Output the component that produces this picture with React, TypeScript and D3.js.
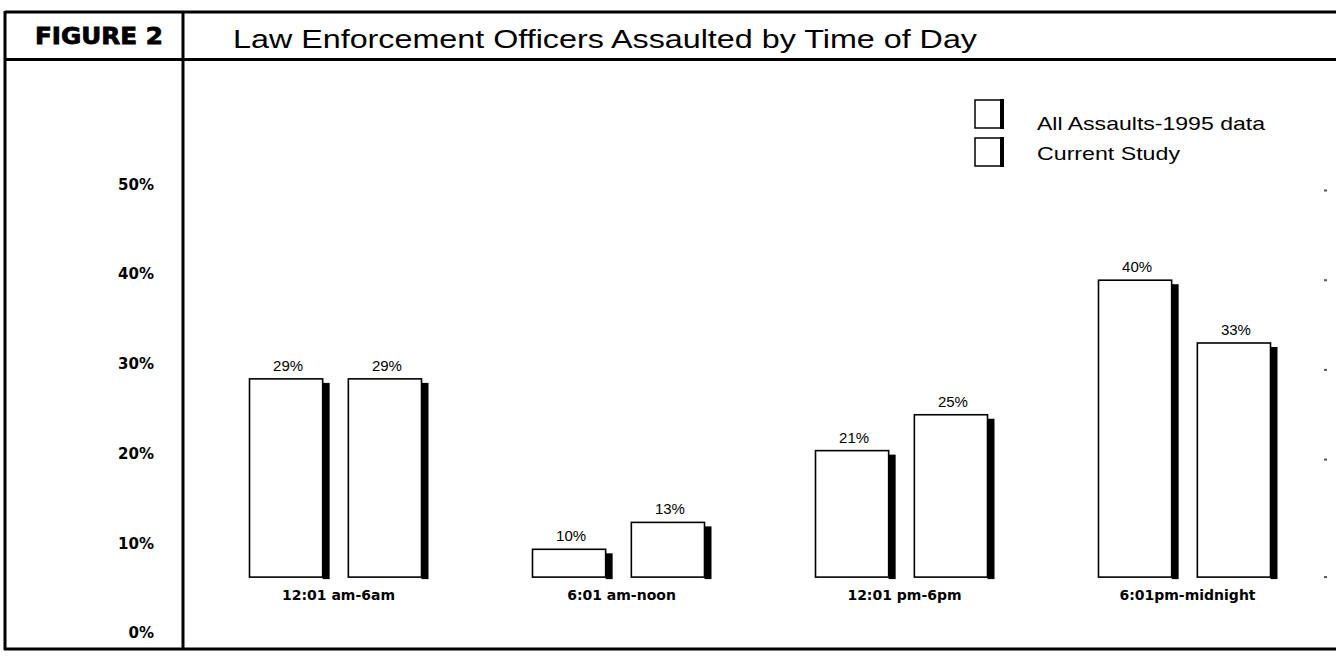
import React from "react";
import * as d3 from "d3";

const categories = ["12:01 am-6am", "6:01 am-noon", "12:01 pm-6pm", "6:01pm-midnight"];
const seriesNames = ["All Assaults-1995 data", "Current Study"];
const allAssaults1995 = [29, 10, 21, 40];
const currentStudy = [29, 13, 25, 33];
const yTicks = [0, 10, 20, 30, 40, 50];
const baseValue = 6.9;
const titleText = "Law Enforcement Officers Assaulted by Time of Day";
const figureLabel = "FIGURE 2";

export default function App() {
  const W = 1336;
  const H = 659;
  const y = d3.scaleLinear().domain([0, 50]).range([639, 190.5]);
  const x0 = d3.scaleBand<string>().domain(categories).range([197, 1329]).padding(0);
  const x1 = d3.scaleBand<string>().domain(seriesNames).range([0, 172]).paddingInner(0.26).paddingOuter(0);
  const bw = x1.bandwidth();
  const baseY = y(baseValue);
  const series = [allAssaults1995, currentStudy];
  const sans = "'Liberation Sans', Arial, Helvetica, sans-serif";
  const bold = "'DejaVu Sans', 'Liberation Sans', sans-serif";
  const legendBoxY = [100, 138];
  const legendTextY = [123, 153];
  const legendTextW = [228, 143];

  return (
    <svg width={W} height={H} style={{ position: "absolute", left: 0, top: 0, background: "#fff" }}>
      <rect x={0} y={0} width={W} height={H} fill="#fff" />
      {/* frame */}
      <g stroke="#000" strokeWidth={3} fill="none">
        <line x1={5} y1={12} x2={W} y2={12} />
        <line x1={5} y1={59.5} x2={W} y2={59.5} />
        <line x1={5} y1={11} x2={5} y2={650} />
        <line x1={183} y1={11} x2={183} y2={650} />
        <line x1={4} y1={649} x2={W} y2={649} />
      </g>
      <text x={35} y={44} fontFamily={bold} fontWeight={900} fontSize={23} stroke="#000" strokeWidth={0.8} textLength={128} lengthAdjust="spacingAndGlyphs">{figureLabel}</text>
      <text x={233} y={48} fontFamily={sans} fontSize={25} textLength={744} lengthAdjust="spacingAndGlyphs">{titleText}</text>

      {/* y tick labels */}
      {yTicks.map((t) => (
        <text key={t} x={154} y={y(t) - 6} dy="0.35em" textAnchor="end" fontFamily={bold} fontWeight={700} fontSize={15}>{`${t}%`}</text>
      ))}

      {/* faint grid dots at right */}
      {[...yTicks.filter((t) => t >= 20), baseValue].map((t) => (
        <rect key={"d" + t} x={1324} y={y(t) - 1} width={3} height={2} fill="#555" />
      ))}

      {/* bars */}
      {categories.map((c, i) => {
        const gx = x0(c)! + x0.bandwidth() / 2 - 89;
        return (
          <g key={c}>
            {seriesNames.map((s, j) => {
              const v = series[j][i];
              const bx = gx + x1(s)!;
              const top = y(v);
              return (
                <g key={s}>
                  <rect x={bx + bw} y={top + 4} width={7} height={baseY - top - 2} fill="#000" />
                  <rect x={bx} y={top} width={bw} height={baseY - top} fill="#fff" stroke="#000" strokeWidth={1.6} />
                  <text x={bx + bw / 2 + 2} y={top - 8} textAnchor="middle" fontFamily={sans} fontSize={15}>{`${v}%`}</text>
                </g>
              );
            })}
            <text x={gx + 89} y={baseY + 18} dy="0.35em" textAnchor="middle" fontFamily={bold} fontWeight={700} fontSize={14}>{c}</text>
          </g>
        );
      })}

      {/* legend */}
      {seriesNames.map((s, j) => {
        const ly = legendBoxY[j];
        return (
          <g key={"l" + s}>
            <rect x={975} y={ly} width={27} height={28} fill="#fff" stroke="#000" strokeWidth={1.5} />
            <rect x={1000} y={ly - 1} width={4} height={30} fill="#000" />
            <text x={1037} y={legendTextY[j]} dy="0.35em" fontFamily={sans} fontSize={19} textLength={legendTextW[j]} lengthAdjust="spacingAndGlyphs">{s}</text>
          </g>
        );
      })}
    </svg>
  );
}
